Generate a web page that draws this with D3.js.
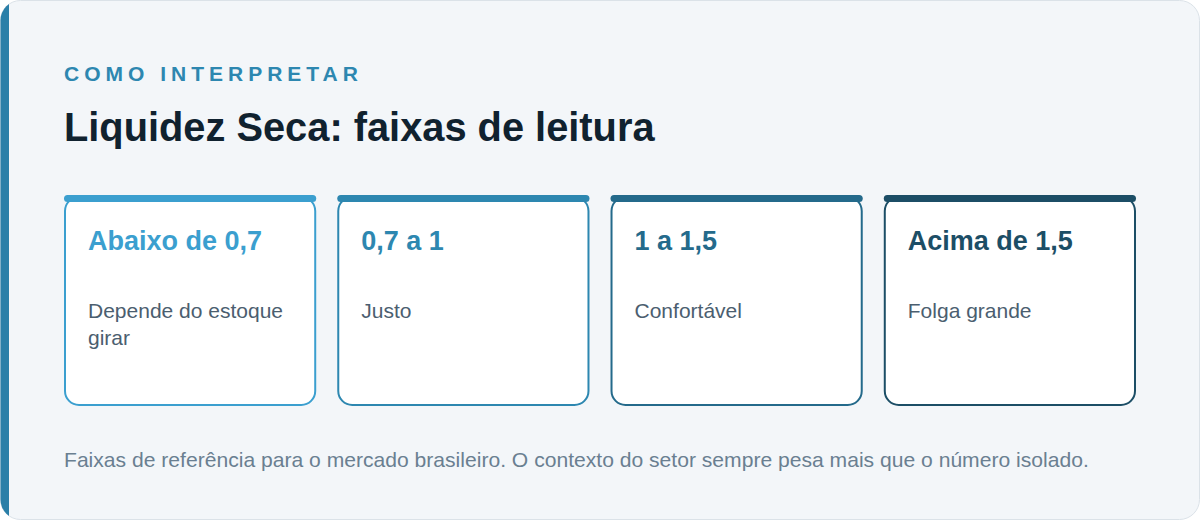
<!DOCTYPE html>
<html>
<head>
<meta charset="utf-8">
<script src="https://cdn.jsdelivr.net/npm/d3@7"></script>
<style>
  html, body { margin:0; padding:0; background:#ffffff; }
  svg text { font-family: "Liberation Sans", Arial, Helvetica, sans-serif; }
</style>
</head>
<body>
<div class="container"></div>
<script>
// dados das faixas
var faixas = ["Abaixo de 0,7", "0,7 a 1", "1 a 1,5", "Acima de 1,5"];
var descricoes = [["Depende do estoque", "girar"], ["Justo"], ["Confortável"], ["Folga grande"]];
var cores = ["#3b9fcf", "#2d87b0", "#246a8b", "#1c4e66"];

var kicker = "COMO INTERPRETAR";
var titulo = "Liquidez Seca: faixas de leitura";
var nota = "Faixas de referência para o mercado brasileiro. O contexto do setor sempre pesa mais que o número isolado.";

var w = 1200;
var h = 520;

var svg = d3.select(".container")
  .append("svg")
  .attr("width", w)
  .attr("height", h);

// clip do painel arredondado
svg.append("clipPath")
  .attr("id", "painel")
  .append("rect")
  .attr("x", 0.5).attr("y", 0.5)
  .attr("width", w - 1).attr("height", h - 1)
  .attr("rx", 20);

// fundo
svg.append("rect")
  .attr("x", 0.5).attr("y", 0.5)
  .attr("width", w - 1).attr("height", h - 1)
  .attr("rx", 20)
  .attr("fill", "#f3f6f9")
  .attr("stroke", "#dbe2e8")
  .attr("stroke-width", 1);

// barra lateral
svg.append("rect")
  .attr("clip-path", "url(#painel)")
  .attr("x", 0).attr("y", 0)
  .attr("width", 9).attr("height", h)
  .attr("fill", "#2a7fa8");

svg.append("text")
  .attr("x", 64).attr("y", 81)
  .attr("fill", "#2d87b0")
  .attr("font-size", 21)
  .attr("font-weight", "bold")
  .attr("letter-spacing", 5)
  .text(kicker);

svg.append("text")
  .attr("x", 64).attr("y", 141)
  .attr("fill", "#10222f")
  .attr("font-size", 39.8)
  .attr("font-weight", "bold")
  .text(titulo);

// escala dos cartões
var cardScale = d3.scaleBand()
  .domain(faixas)
  .range([64, 1136])
  .paddingInner(0.077);

var cardTop = 196;
var cardH = 210;

var cards = svg.selectAll(".card")
  .data(faixas)
  .enter()
  .append("g")
  .attr("class", "card")
  .attr("transform", function(d){ return "translate(" + cardScale(d) + "," + cardTop + ")"; });

cards.append("rect")
  .attr("x", 1).attr("y", 1)
  .attr("width", cardScale.bandwidth() - 2)
  .attr("height", cardH - 2)
  .attr("rx", 14)
  .attr("fill", "#ffffff")
  .attr("stroke", function(d, i){ return cores[i]; })
  .attr("stroke-width", 2);

// borda superior grossa
cards.append("rect")
  .attr("x", 0).attr("y", -1)
  .attr("width", cardScale.bandwidth())
  .attr("height", 7)
  .attr("rx", 3.5)
  .attr("fill", function(d, i){ return cores[i]; });

cards.append("text")
  .attr("x", 24).attr("y", 54)
  .attr("fill", function(d, i){ return cores[i]; })
  .attr("font-size", 27)
  .attr("font-weight", "bold")
  .text(function(d){ return d; });

cards.each(function(d, i){
  d3.select(this).selectAll(".desc")
    .data(descricoes[i])
    .enter()
    .append("text")
    .attr("class", "desc")
    .attr("x", 24)
    .attr("y", function(l, j){ return 122 + j * 27; })
    .attr("fill", "#4b5e6f")
    .attr("font-size", 21)
    .text(function(l){ return l; });
});

svg.append("text")
  .attr("x", 64).attr("y", 467)
  .attr("fill", "#6a7f91")
  .attr("font-size", 21.1)
  .text(nota);
</script>
</body>
</html>
